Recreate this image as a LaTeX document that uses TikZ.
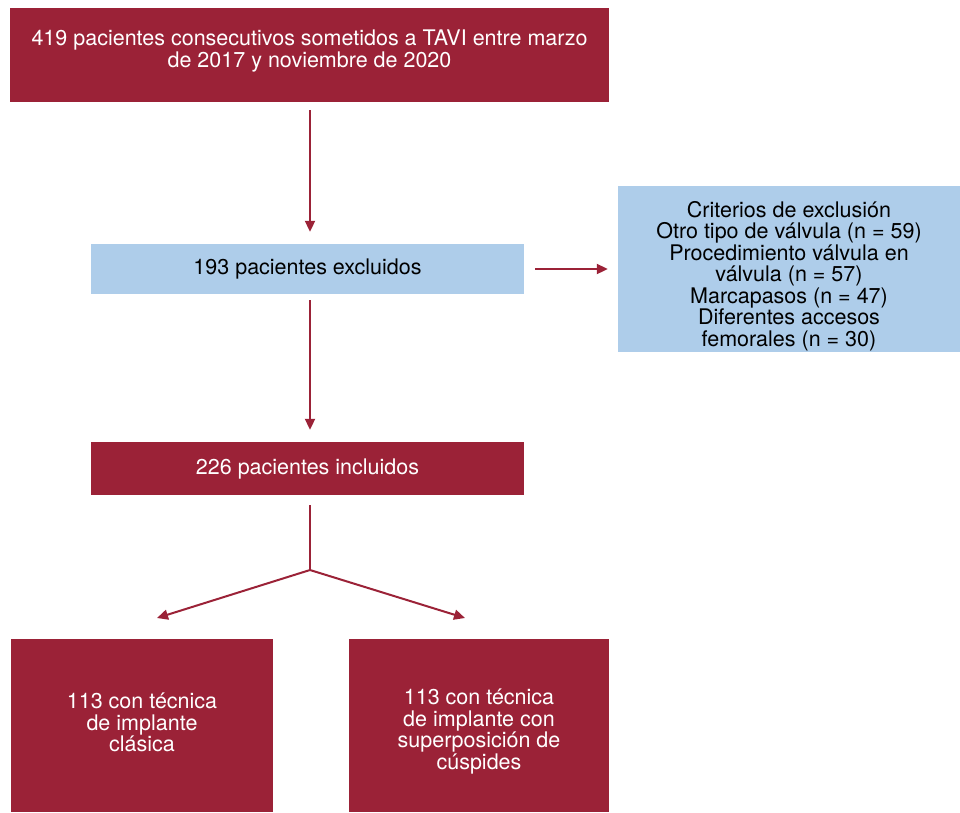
\documentclass[tikz,border=0pt]{standalone}
\usepackage{fontspec}
\setmainfont{TeX Gyre Heros}
\usetikzlibrary{arrows.meta}
\definecolor{tavired}{RGB}{155,34,55}
\definecolor{taviblue}{RGB}{174,205,234}

\begin{document}
\begin{tikzpicture}[x=1pt,y=-1pt,
  redbox/.style={shape=rectangle, fill=tavired, text=white, inner sep=0pt, align=center},
  bluebox/.style={shape=rectangle, fill=taviblue, text=black, inner sep=0pt, align=center},
  flow/.style={draw=tavired, line width=2pt, -{Triangle[length=11pt,width=10pt]}},
  every node/.style={font=\fontsize{21.5}{21.5}\selectfont},
  every label/.style={inner sep=0pt, align=center}]
%[inner sep=1mm]
\useasboundingbox (0,0) rectangle (960,812);

\path (309.5,55) node (total) [redbox, minimum width=599pt, minimum height=94pt,
  label={[text=white, yshift=4pt]center:{419 pacientes consecutivos sometidos a TAVI entre marzo\\ de 2017 y noviembre de 2020}}] {};
\path (307.5,269) node (excl) [bluebox, minimum width=433pt, minimum height=50pt] {193 pacientes excluidos};
\path (789,269) node (crit) [bluebox, minimum width=342pt, minimum height=166pt,
  label={[yshift=-7pt]center:{Criterios de exclusión\\ Otro tipo de válvula (n = 59)\\ Procedimiento válvula en\\ válvula (n = 57)\\ Marcapasos (n = 47)\\ Diferentes accesos\\ femorales (n = 30)}}] {};
\path (307.5,468.5) node (incl) [redbox, minimum width=433pt, minimum height=53pt] {226 pacientes incluidos};
\path (142,725.5) node (clas) [redbox, minimum width=262pt, minimum height=173pt,
  label={[text=white, yshift=3pt]center:{113 con técnica\\ de implante\\ clásica}}] {};
\path (479,725.5) node (sup) [redbox, minimum width=260pt, minimum height=173pt,
  label={[text=white, yshift=-6pt]center:{113 con técnica\\ de implante con\\ superposición de\\ cúspides}}] {};

\coordinate (split) at (310,570);
\coordinate (tipL) at (157,618);
\coordinate (tipR) at (465,618);

\draw[flow, shorten <=8pt, shorten >=12pt] (total.south -| split) -- (excl.north -| split);
\draw[flow, shorten <=11pt, shorten >=10pt] (excl.east) -- (crit.west);
\draw[flow, shorten <=6pt, shorten >=12pt] (excl.south -| split) -- (incl.north -| split);
\draw[draw=tavired, line width=2pt, shorten <=10pt] (incl.south -| split) -- (split);
\draw[flow] (split) -- (tipL);
\draw[flow] (split) -- (tipR);

\end{tikzpicture}
\end{document}
